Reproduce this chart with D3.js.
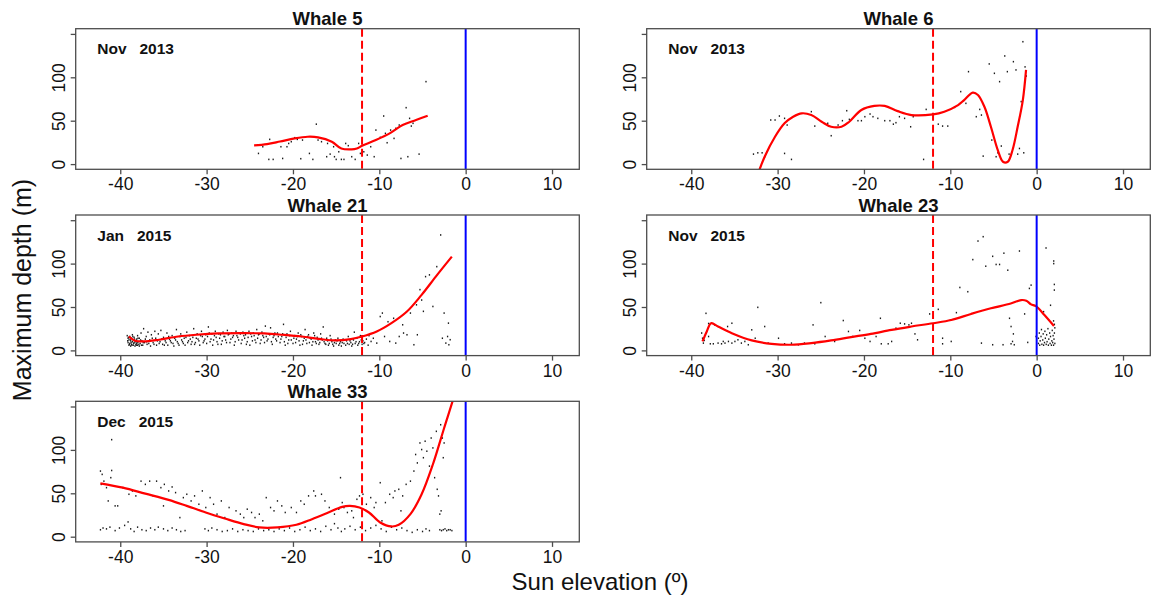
<!DOCTYPE html>
<html>
<head>
<meta charset="utf-8">
<script src="https://cdn.jsdelivr.net/npm/d3@7"></script>
<style>
  html, body { margin: 0; padding: 0; background: #fff; }
  svg { display: block; font-family: "Liberation Sans", Arial, Helvetica, sans-serif; }
</style>
</head>
<body>
<svg id="chart" width="1151" height="597"></svg>
<script>
// ---- data: dive maximum depth (m) against sun elevation (degrees) ----
const whaleNames = ["Whale 5", "Whale 6", "Whale 21", "Whale 23", "Whale 33"];
const months = ["Nov", "Nov", "Jan", "Nov", "Dec"];
const years = ["2013", "2013", "2015", "2015", "2015"];
const xTicks = [-40, -30, -20, -10, 0, 10];
const yTicks = [0, 50, 100, 150];
const xLimits = [-43, 11];
const yLimits = [0, 150];
const civilTwilight = -12;   // dashed red reference
const sunrise = 0;           // solid blue reference

const whale5Dives = [[-24.0,12.3],[-23.5,20],[-22.7,28.5],[-22.8,5.4],[-22.3,5.4],[-21.4,20],[-21.2,6.5],[-20.7,20],[-20.5,23.8],[-20.2,25.8],[-19.8,30.4],[-19.5,28.5],[-19.1,6.2],[-18.9,27.7],[-18.1,12.3],[-17.7,5.4],[-17.3,46],[-17.1,27.7],[-16.7,25.8],[-16.1,8.5],[-16.0,23.8],[-15.7,11.5],[-15.3,20],[-15.2,8.5],[-15.0,5.4],[-14.7,14.2],[-14.4,5.4],[-14.1,5.4],[-13.9,23.8],[-13.6,21.2],[-13.2,8.5],[-12.8,5.4],[-12.4,23.8],[-12.2,12.3],[-11.8,14.2],[-11.4,10.4],[-11.0,20],[-10.6,8.5],[-10.4,39.2],[-9.9,30.8],[-9.5,55.4],[-9.3,35.4],[-9.1,24.6],[-8.7,39.2],[-8.3,29.6],[-8.1,41.2],[-7.7,45],[-7.5,6.5],[-6.9,65],[-6.7,8.5],[-6.5,52.7],[-6.3,43.8],[-6.1,47],[-5.4,11.5],[-4.6,95]];
const whale5Smooth = [[-24.5,21.5],[-23.0,23],[-21.5,26],[-19.8,29.6],[-18.3,31.5],[-17.1,30.8],[-15.5,25.8],[-14.4,18],[-13.2,17],[-12.6,18],[-12.0,21],[-10.4,27.7],[-8.7,36],[-7.3,45],[-5.75,50.8],[-4.4,55.8]];

const whale6Dives = [[-32.8,11.5],[-32.3,13],[-31.8,13],[-31.5,8.5],[-30.8,50.8],[-30.3,50.8],[-29.8,55.4],[-29.2,52.7],[-29.2,12.3],[-28.9,45],[-28.4,5.4],[-26.1,60.4],[-25.7,43.8],[-24.2,47],[-23.8,32.7],[-23.0,45],[-22.5,50],[-22.0,61.5],[-21.7,51.5],[-20.7,50],[-20.3,50],[-19.9,54.6],[-19.3,57.7],[-18.96,54.6],[-18.4,52.7],[-17.6,50],[-17.0,50],[-16.6,46],[-16.3,47.7],[-15.9,54.6],[-15.3,52.7],[-14.6,43],[-14.3,54.6],[-13.1,5.4],[-12.8,63],[-11.4,46],[-10.9,43.8],[-10.3,43.8],[-9.5,65.4],[-8.8,83.5],[-8.2,70],[-7.9,106.5],[-7.0,54.6],[-6.6,63],[-6.4,56.5],[-6.2,9.2],[-5.5,115.4],[-5.2,27.7],[-4.9,104.6],[-4.7,8.5],[-4.5,13],[-4.3,95],[-4.1,20.8],[-3.7,124.6],[-3.4,106.5],[-3.2,11.5],[-2.7,118],[-2.4,108.5],[-2.2,11.5],[-2.0,18],[-1.8,72],[-1.6,141],[-1.5,13],[-1.35,112],[-1.2,101.5]];
const whale6Smooth = [[-32.3,-12],[-31.5,8.5],[-30.3,31.5],[-29.2,47],[-28.2,54.6],[-27.2,58.5],[-26.1,56.5],[-24.9,48.8],[-23.8,43],[-22.6,43],[-21.7,48.8],[-20.3,62.3],[-18.8,67],[-17.6,67],[-16.1,61],[-14.5,56.5],[-12.0,57.3],[-10.7,60.4],[-9.1,68],[-8.4,73.8],[-7.4,82.3],[-6.8,79.6],[-6.05,66],[-5.3,43],[-4.5,16],[-3.9,2.7],[-3.35,2.7],[-2.8,16],[-2.2,43],[-1.6,73.8],[-1.23,108.5]];

const whale21Dives = [[-39.2,17],[-39.1,14],[-39.1,9],[-39.0,6],[-39.0,12],[-38.9,16],[-38.9,8],[-38.8,11],[-38.8,5],[-38.7,14],[-38.7,7],[-38.6,10],[-38.6,18],[-38.5,6],[-38.5,12],[-38.4,9],[-38.4,15],[-38.3,5],[-38.3,11],[-38.2,7],[-38.1,13],[-38.1,8],[-38.0,6],[-38.0,17],[-37.9,10],[-37.8,5],[-37.8,14],[-37.7,8],[-37.6,20],[-37.5,11],[-37.4,6],[-37.3,25],[-37.2,9],[-37.0,16],[-36.9,7],[-36.8,21],[-36.6,12],[-36.5,5],[-36.4,18],[-36.2,9],[-36.0,22],[-35.9,14],[-35.8,6],[-35.6,19],[-35.4,10],[-35.3,23],[-35.1,7],[-35.0,15],[-34.8,11],[-34.6,20],[-34.5,6],[-34.3,13],[-34.1,9],[-34.0,17],[-33.8,5],[-33.6,12],[-33.5,24],[-33.3,8],[-33.1,16],[-33.0,19],[-32.8,10],[-32.6,14],[-32.5,6],[-32.3,21],[-32.1,11],[-32.0,17],[-31.8,7],[-31.6,15],[-31.5,25],[-31.3,9],[-31.1,19],[-31.0,13],[-30.8,6],[-30.6,22],[-30.5,16],[-30.3,11],[-30.1,18],[-30.0,8],[-29.8,27],[-29.7,20],[-29.5,13],[-29.3,6],[-29.1,17],[-29.0,22],[-28.8,10],[-28.6,19],[-28.5,14],[-28.3,7],[-28.1,21],[-28.0,16],[-27.8,12],[-27.6,23],[-27.5,18],[-27.3,9],[-27.1,20],[-27.0,15],[-26.8,6],[-26.6,22],[-26.5,17],[-26.3,12],[-26.1,19],[-26.0,8],[-25.8,21],[-25.6,14],[-25.5,18],[-25.3,10],[-25.1,22],[-25.0,6],[-24.8,16],[-24.6,20],[-24.4,12],[-24.2,24],[-24.0,18],[-23.8,8],[-23.6,21],[-23.4,15],[-23.2,28],[-23.0,11],[-22.8,19],[-22.6,26],[-22.4,7],[-22.2,17],[-22.0,13],[-21.8,20],[-21.5,9],[-21.3,16],[-21.1,30],[-20.9,6],[-20.7,19],[-20.5,12],[-20.3,22],[-20.0,8],[-19.8,17],[-19.6,13],[-19.4,20],[-19.2,6],[-19.0,16],[-18.8,11],[-18.6,24],[-18.4,8],[-18.2,18],[-18.0,14],[-17.8,6],[-17.6,20],[-17.4,10],[-17.2,15],[-17.0,7],[-16.8,19],[-16.6,12],[-16.5,27],[-16.3,8],[-16.1,14],[-15.9,6],[-15.7,17],[-15.5,10],[-15.3,5],[-15.1,12],[-15.0,8],[-14.8,14],[-14.7,6],[-14.5,10],[-14.4,5],[-14.2,13],[-14.1,8],[-13.9,6],[-13.8,11],[-13.6,16],[-13.5,7],[-13.3,9],[-13.2,5],[-13.0,12],[-12.9,21],[-12.8,8],[-12.6,14],[-12.5,6],[-12.3,10],[-12.2,17],[-12.0,7],[-11.9,11],[-11.7,9],[-11.5,13],[-11.3,6],[-11.2,17],[-10.96,10.3],[-10.7,14],[-10.3,8.4],[-9.9,39],[-9.65,43],[-9.4,16],[-9.0,33],[-8.8,10.3],[-8.35,37],[-8.1,8.4],[-7.7,16],[-7.3,29.5],[-7.2,20],[-6.8,18],[-6.4,43],[-6.0,6.5],[-5.7,52.5],[-5.6,18],[-5.3,70],[-5.1,58],[-4.9,45],[-4.65,85],[-4.2,87],[-3.8,50.6],[-3.35,96.5],[-2.9,133],[-2.7,14],[-2.5,43],[-2.3,8.4],[-2.1,16],[-2.0,31.4],[-1.95,6.5],[-1.8,12.3],
  [-39.15,11],[-39.05,15],[-38.95,7],[-38.85,13],[-38.75,9],[-38.65,6],[-38.55,16],[-38.45,8],[-38.35,13],[-38.25,10],[-38.15,6],[-38.05,9],[-37.95,14],[-37.85,7],[-37.65,12],[-37.55,6],[-37.35,9],[-37.1,13],[-36.95,10],[-36.7,8],[-36.3,14],[-36.1,7],[-35.7,11],[-35.5,8],[-35.2,13],[-34.9,6],[-34.7,9],[-34.4,16],[-34.2,11],[-33.9,8],[-33.7,14],[-33.4,10],[-33.2,6],[-32.9,12],[-32.7,8],[-32.4,15],[-32.2,9],[-31.9,13],[-31.7,10],[-31.4,7],[-31.2,14],[-30.9,11],[-30.7,17],[-30.4,9],[-30.2,13],[-29.9,16],[-29.6,10],[-29.4,19],[-29.2,12],[-28.9,15],[-28.7,7],[-28.4,18],[-28.2,11],[-27.9,16],[-27.7,9],[-27.4,19],[-27.2,13],[-26.9,17],[-26.7,10],[-26.4,15],[-26.2,20],[-25.9,12],[-25.7,17],[-25.4,7],[-25.2,15],[-24.9,19],[-24.7,11],[-24.5,17],[-24.3,9],[-24.1,14],[-23.9,19],[-23.7,12],[-23.5,17],[-23.3,9],[-23.1,16],[-22.9,13],[-22.7,18],[-22.5,10],[-22.3,15],[-22.1,20],[-21.9,11],[-21.7,16],[-21.4,13],[-21.2,19],[-21.0,10],[-20.8,15],[-20.6,8],[-20.4,17],[-20.2,12],[-19.9,14],[-19.7,9],[-19.5,16],[-19.3,11],[-19.1,18],[-18.9,7],[-18.7,14],[-18.5,12],[-18.3,16],[-18.1,9],[-17.9,13],[-17.7,10],[-17.5,17],[-17.3,8],[-17.1,12],[-16.9,9],[-16.7,14],[-16.4,10],[-16.2,7],[-16.0,11],[-15.8,8],[-15.6,13],[-15.4,7],[-15.2,9],[-14.9,11],[-14.6,8],[-14.3,9],[-14.0,12],[-13.7,8],[-13.4,11],[-13.1,7],[-12.7,10],[-12.4,8],[-12.1,12],[-11.8,8]];
const whale21Smooth = [[-39.0,16],[-38.35,11.5],[-37.3,10.3],[-35.5,12.3],[-33.3,16],[-31.2,18],[-28.6,19.5],[-26.0,19.8],[-23.3,19.5],[-21.2,18],[-19.0,16],[-16.8,13],[-15.1,11.5],[-13.3,13],[-12.0,16],[-10.3,21.8],[-8.6,31.4],[-6.8,44.8],[-5.1,64],[-3.3,87],[-1.6,108]];

const whale23Dives = [[-38.8,20],[-38.7,14],[-38.6,8.4],[-38.5,11.5],[-38.3,42.7],[-38.0,16],[-38.0,31],[-37.8,7.6],[-37.65,31.3],[-37.45,7.6],[-37.3,29.4],[-36.9,8.4],[-36.5,7.6],[-36.3,10.3],[-36.1,8.4],[-35.7,10.3],[-35.8,27.5],[-35.3,31.3],[-35.3,8.4],[-34.95,10.3],[-34.6,12.2],[-34.2,8.4],[-33.8,10.3],[-33.4,6.5],[-33.0,23.7],[-32.6,14],[-32.3,49.6],[-31.5,27.5],[-31.1,8.4],[-29.9,14],[-29.2,7.6],[-28.4,8.4],[-27.6,6.5],[-26.9,8.4],[-25.9,29.4],[-25.7,7.6],[-25.0,55],[-24.5,16],[-23.4,10.3],[-22.4,34.4],[-21.8,21.8],[-21.3,16],[-20.5,23],[-19.9,14],[-19.3,10.3],[-18.6,16],[-18.1,37],[-18.0,7.6],[-17.2,7.6],[-16.8,10.3],[-16.3,25.6],[-15.8,31.3],[-15.3,30.5],[-14.8,29.4],[-14.5,31.3],[-14.1,19],[-13.8,12.2],[-12.4,42],[-11.4,47.3],[-10.9,14],[-10.9,7.6],[-10.0,35],[-9.9,10.3],[-9.3,43.5],[-8.9,72.5],[-7.98,67.6],[-7.4,104.6],[-6.8,126],[-6.4,8.4],[-6.2,131],[-5.9,97],[-5.1,6.5],[-5.1,108.4],[-4.7,99],[-4.3,99],[-3.9,6.5],[-3.8,112],[-3.35,92.4],[-3.15,37],[-2.97,27.5],[-2.97,7.6],[-2.8,10.3],[-2.7,19],[-2.6,6.5],[-2.0,114.5],[-1.4,42],[-1.04,9.2],[-0.85,71.4],[-0.65,75.2],[-0.08,16],[0.2,8],[0.2,14],[0.3,20],[0.35,6],[0.4,11],[0.5,16],[0.55,24],[0.6,7],[0.7,12],[0.75,19],[0.8,44.6],[0.8,6],[0.9,9],[0.95,22],[1.0,14],[1.08,118],[1.1,7],[1.15,18],[1.2,10],[1.3,25],[1.35,6],[1.4,13],[1.5,20],[1.55,8],[1.6,52],[1.6,16],[1.7,6],[1.75,11],[1.8,23],[1.85,9],[1.9,17],[1.95,6],[1.97,103],[1.97,100],[2.0,13],[2.04,76],[2.04,69.5],[2.05,20],[2.1,8],[2.1,26],[2.05,30],[1.95,34]];
const whale23Smooth = [[-38.7,10.3],[-38.2,21.8],[-37.7,31.3],[-36.9,27.5],[-35.3,19.8],[-33.0,11.5],[-30.7,7.6],[-28.4,6.5],[-26.1,8.4],[-23.8,11.5],[-21.5,15.3],[-19.2,19],[-16.8,23.7],[-14.5,27.5],[-12.0,31.3],[-9.9,35],[-7.6,42],[-5.3,48.5],[-3.0,54],[-1.8,58],[-1.2,57.3],[-0.65,53],[-0.08,51],[0.9,40.8],[2.0,28.2]];

const whale33Dives = [[-41.0,111.8],[-42.3,75.6],[-42.1,71.8],[-42.2,60.3],[-41.9,64],[-41.6,56.5],[-41.4,41.2],[-41.0,76.3],[-41.1,68],[-40.6,35.5],[-40.3,35.5],[-39.7,56.5],[-39.0,48.9],[-38.6,52.7],[-38.2,47],[-37.6,64],[-37.1,60.3],[-36.6,64],[-36.2,47],[-35.8,64],[-35.3,56.5],[-35.0,35.5],[-34.9,60.3],[-34.4,52.7],[-34.0,57.3],[-33.6,50.8],[-33.1,22],[-32.7,45],[-32.3,48.9],[-31.8,41.2],[-31.4,47],[-30.9,37.4],[-30.5,52.7],[-30.1,33.6],[-29.6,45],[-29.2,37.4],[-28.8,26],[-28.3,41.2],[-27.9,22],[-27.4,33.6],[-27.0,18.3],[-26.6,29.8],[-26.1,26],[-25.7,22],[-25.3,31.7],[-24.8,27.9],[-24.4,22],[-23.9,26],[-23.5,18.3],[-23.1,45],[-22.6,33.6],[-22.2,29.8],[-21.8,41.2],[-21.3,35.5],[-20.9,27.9],[-20.2,33.6],[-19.6,27.9],[-19.1,41.2],[-18.7,37.4],[-18.2,47],[-17.6,52.7],[-17.4,47],[-16.7,48.9],[-16.3,41.2],[-15.8,33.6],[-15.2,26],[-14.7,31.7],[-14.5,68],[-14.3,39.3],[-14.1,33.6],[-13.7,27.9],[-13.2,29.8],[-13.0,22],[-12.6,43.1],[-12.3,47],[-11.9,48.9],[-11.5,37.4],[-11.0,45],[-10.6,33.6],[-10.4,39.3],[-9.9,62.2],[-9.7,18.3],[-9.3,39.3],[-8.8,48.9],[-8.4,45],[-8.2,52.7],[-7.75,54.6],[-7.5,29.8],[-7.3,47],[-6.9,60.3],[-6.4,64],[-6.0,75.6],[-5.8,94.7],[-5.6,85],[-5.3,108],[-5.1,100.4],[-4.9,91],[-4.7,110],[-4.5,98.5],[-4.2,81.3],[-4.0,113.7],[-3.8,102.3],[-3.6,68],[-3.4,121.4],[-3.3,54.6],[-3.15,47],[-3.0,26],[-2.9,129],[-2.85,29.8],[-2.7,113.7],[-2.6,91],[-2.5,108],[-42.3,8],[-42.0,10],[-41.6,9],[-41.2,11],[-40.6,7],[-40.1,10],[-39.5,13],[-39.1,17],[-38.8,9],[-38.4,6],[-38.0,11],[-37.5,8],[-37.0,7],[-36.5,10],[-36.0,8],[-35.6,11],[-35.0,9],[-34.5,7],[-34.0,10],[-33.5,8],[-33.0,6],[-32.5,7],[-30.2,9],[-29.8,7],[-29.4,10],[-28.8,8],[-28.2,6],[-27.6,7],[-27.0,9],[-26.4,6],[-25.8,8],[-25.2,7],[-24.6,6],[-24.0,9],[-23.4,7],[-22.8,8],[-22.2,6],[-21.6,9],[-21.0,7],[-20.4,10],[-19.8,6],[-19.2,8],[-18.6,11],[-18.0,7],[-17.4,9],[-16.8,6],[-16.2,12],[-15.6,8],[-15.2,15],[-14.8,10],[-14.4,6],[-14.0,9],[-13.4,12],[-12.8,8],[-12.2,11],[-11.6,7],[-11.0,10],[-10.4,13],[-9.8,9],[-9.2,6],[-8.6,11],[-8.0,8],[-7.4,10],[-6.8,7],[-6.2,5],[-5.6,8],[-5.0,6],[-4.6,9],[-4.2,7],[-3.0,8],[-2.8,7],[-2.6,8],[-2.4,9],[-2.2,7],[-2.0,8],[-1.8,8],[-1.6,7]];
const whale33Smooth = [[-42.3,61.5],[-39.7,56.5],[-37.1,49.6],[-34.4,42.4],[-32.3,35.5],[-30.1,27.9],[-27.9,21],[-25.7,14.5],[-23.9,10.7],[-21.8,10.7],[-19.6,13.7],[-17.8,20.2],[-16.1,27],[-14.3,34.4],[-13.4,35.5],[-12.3,33.6],[-11.2,27.9],[-9.9,16.4],[-8.6,11.8],[-7.75,13.7],[-6.4,26],[-5.1,48.9],[-3.8,83.2],[-2.5,125],[-1.4,160],[-1.0,175]];

// ---- layout ----
const panelW = 503.6, panelH = 140.6;
const colX = [75.7, 646.7];
const rowY = [28.7, 215.0, 401.3];

const panels = whaleNames.map((name, i) => ({
  name, month: months[i], year: years[i],
  dives: [whale5Dives, whale6Dives, whale21Dives, whale23Dives, whale33Dives][i],
  smooth: [whale5Smooth, whale6Smooth, whale21Smooth, whale23Smooth, whale33Smooth][i],
  x0: colX[i % 2], y0: rowY[Math.floor(i / 2)]
}));

const svg = d3.select("#chart");
const pad = (lo, hi) => { const d = (hi - lo) * 0.04; return [lo - d, hi + d]; };
const xDom = pad(xLimits[0], xLimits[1]);
const yDom = pad(yLimits[0], yLimits[1]);

panels.forEach((p, i) => {
  const x = d3.scaleLinear().domain(xDom).range([p.x0, p.x0 + panelW]);
  const y = d3.scaleLinear().domain(yDom).range([p.y0 + panelH, p.y0]);
  const g = svg.append("g");

  const clipId = "clip" + i;
  svg.append("clipPath").attr("id", clipId)
    .append("rect").attr("x", p.x0).attr("y", p.y0).attr("width", panelW).attr("height", panelH);

  const plot = g.append("g").attr("clip-path", `url(#${clipId})`);

  // dives
  plot.append("g").selectAll("rect").data(p.dives).join("rect")
    .attr("x", d => x(d[0]) - 0.6).attr("y", d => y(d[1]) - 0.8)
    .attr("width", 1.3).attr("height", 1.6).attr("fill", "#1a1a1a");

  // smoothed depth
  plot.append("path").datum(p.smooth)
    .attr("d", d3.line().x(d => x(d[0])).y(d => y(d[1])).curve(d3.curveCatmullRom.alpha(0.5)))
    .attr("fill", "none").attr("stroke", "#ff0000").attr("stroke-width", 2.2);

  // reference lines
  plot.append("line").attr("x1", x(civilTwilight)).attr("x2", x(civilTwilight))
    .attr("y1", p.y0).attr("y2", p.y0 + panelH)
    .attr("stroke", "#ff0000").attr("stroke-width", 2).attr("stroke-dasharray", "8,4");
  plot.append("line").attr("x1", x(sunrise)).attr("x2", x(sunrise))
    .attr("y1", p.y0).attr("y2", p.y0 + panelH)
    .attr("stroke", "#0000ff").attr("stroke-width", 2);

  // frame
  g.append("rect").attr("x", p.x0).attr("y", p.y0).attr("width", panelW).attr("height", panelH)
    .attr("fill", "none").attr("stroke", "#4d4d4d").attr("stroke-width", 1.3);

  // axes
  const ax = g.append("g").attr("transform", `translate(0,${p.y0 + panelH})`)
    .call(d3.axisBottom(x).tickValues(xTicks).tickSize(5).tickSizeOuter(0).tickFormat(d => String(d)));
  ax.select(".domain").remove();
  ax.selectAll("line").attr("stroke", "#4d4d4d").attr("stroke-width", 1.3);
  ax.selectAll("text").attr("y", 21).attr("dy", 0)
    .attr("font-size", 17.5).attr("fill", "#111").style("font-family", "Liberation Sans, Arial, sans-serif");

  const ay = g.append("g").attr("transform", `translate(${p.x0},0)`)
    .call(d3.axisLeft(y).tickValues(yTicks).tickSize(5).tickSizeOuter(0).tickFormat(d => d === 150 ? "" : String(d)));
  ay.select(".domain").remove();
  ay.selectAll("line").attr("stroke", "#4d4d4d").attr("stroke-width", 1.3);
  ay.selectAll("text").attr("x", null).attr("dy", null).attr("text-anchor", "middle")
    .attr("transform", "translate(-11,0) rotate(-90)")
    .attr("font-size", 17.5).attr("fill", "#111").style("font-family", "Liberation Sans, Arial, sans-serif");

  // title
  g.append("text").attr("x", p.x0 + panelW / 2).attr("y", p.y0 - 3.5)
    .attr("text-anchor", "middle").attr("font-size", 18.5).attr("font-weight", "bold")
    .attr("fill", "#111").text(p.name);

  // month / year tag
  g.append("text").attr("x", p.x0 + 21.6).attr("y", p.y0 + 25.5)
    .attr("font-size", 15.5).attr("font-weight", "bold").attr("fill", "#111")
    .attr("xml:space", "preserve").style("white-space", "pre")
    .text(`${p.month}   ${p.year}`);
});

// shared axis titles
svg.append("text").attr("x", 600).attr("y", 590).attr("text-anchor", "middle")
  .attr("font-size", 24).attr("fill", "#111").text("Sun elevation (\u00BA)");
svg.append("text").attr("transform", "translate(31,290) rotate(-90)").attr("text-anchor", "middle")
  .attr("font-size", 25).attr("fill", "#111").text("Maximum depth (m)");
</script>
</body>
</html>
